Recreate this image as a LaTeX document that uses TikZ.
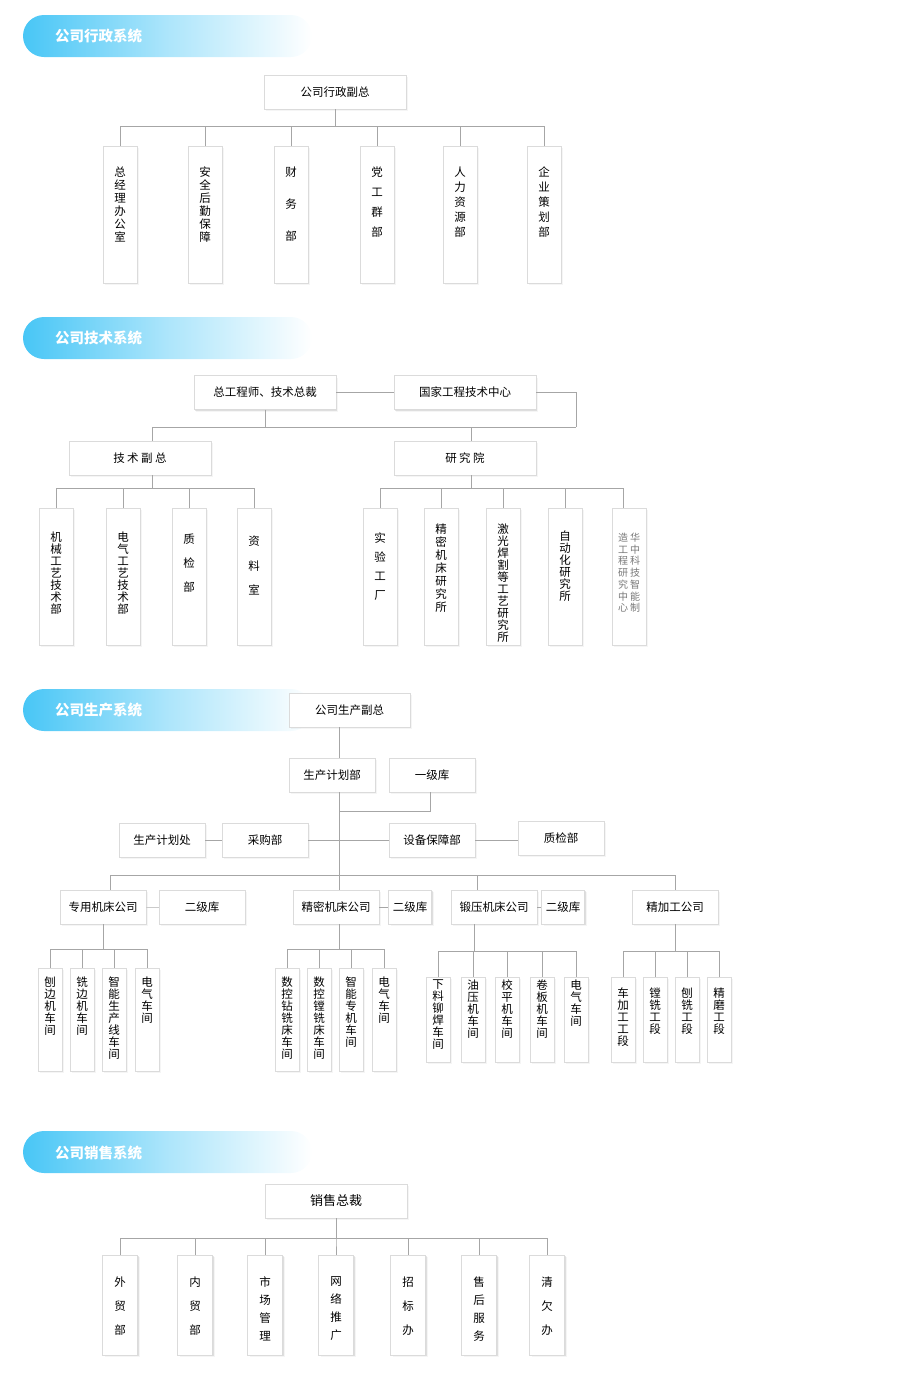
\documentclass[tikz,border=0pt]{standalone}
\usepackage{fontspec}
\newfontfamily\cjk{Noto Sans CJK SC}
\usetikzlibrary{shadows}
\definecolor{headblue}{RGB}{72,198,246}
\definecolor{linegray}{RGB}{166,166,166}
\definecolor{labgray}{RGB}{120,120,120}
\tikzset{
  box/.style={fill=white, draw=black!14, line width=0.4pt,
    drop shadow={shadow xshift=2.2pt, shadow yshift=-2.2pt, opacity=0.08},
    drop shadow={shadow xshift=1.2pt, shadow yshift=-1.2pt, opacity=0.2},
    font=\cjk\fontsize{11.5}{13}\selectfont, inner sep=0pt},
  hbox/.style={box, minimum width=142pt, minimum height=34pt},
  mbox/.style={box, minimum width=86pt, minimum height=34pt},
  sbox/.style={box, minimum width=43pt, minimum height=34pt},
  vbox/.style={box, minimum width=34pt, minimum height=137pt},
  tbox/.style={box, minimum width=24pt, minimum height=#1},
  vtxt/.style={font=\cjk\fontsize{11.5}{#1}\selectfont, align=center, inner sep=0pt, anchor=north},
  conn/.style={draw=linegray, line width=0.9pt},
  headbar/.style={rounded corners=21pt, left color=headblue, right color=white, middle color=headblue!45},
  headtxt/.style={font=\cjk\bfseries\fontsize{14.5}{16}\selectfont, text=white, anchor=west, inner sep=0pt}
}
\begin{document}
\begin{tikzpicture}[x=1pt,y=-1pt]
  \useasboundingbox (0,0) rectangle (900,1390);

  % administration
  \shade[headbar] (23,15) rectangle (312,57);
  \node[headtxt] (h1) at (55,36) {公司行政系统};
  \node[hbox] (xzfz) at (335,92) {公司行政副总};
  \foreach \n/\x/\s/\t in {zjb/120/13/{总\\经\\理\\办\\公\\室}, aqhq/205/13/{安\\全\\后\\勤\\保\\障},
      cwb/291/32/{财\\务\\部}, dgq/377/20/{党\\工\\群\\部}, rlzy/460/15/{人\\力\\资\\源\\部},
      qych/544/15/{企\\业\\策\\划\\部}}{
    \node[vbox] (\n) at (\x,214.5) {};
    \node[vtxt=\s] (\n-t) at ([yshift=-21pt]\n.north) {\t};
    \draw[conn] (xzfz.south) -- ++(0,17) -| (\n.north);
  }

  % technology
  \shade[headbar] (23,317) rectangle (312,359);
  \node[headtxt] (h2) at (55,338) {公司技术系统};
  \node[hbox] (zgs) at (265,392.5) {总工程师、技术总裁};
  \node[hbox] (gjzx) at (465,392.5) {国家工程技术中心};
  \node[hbox] (jsfz) at (140,458) {技\hspace{2.5pt}术\hspace{2.5pt}副\hspace{2.5pt}总};
  \node[hbox] (yjy) at (465,458) {研\hspace{2.5pt}究\hspace{2.5pt}院};
  \coordinate (k3) at (576,427);
  \draw[conn] (zgs.east) -- (gjzx.west);
  \draw[conn] (gjzx.east) -| (k3);
  \draw[conn] (zgs.south) |- (k3);
  \draw[conn] ([xshift=12pt]jsfz.north) |- (k3);
  \draw[conn] ([xshift=6pt]yjy.north) |- (k3);
  \foreach \n/\x/\s/\o/\t in {jxgy/56/12/24/{机\\械\\工\\艺\\技\\术\\部}, dqgy/123/12/24/{电\\气\\工\\艺\\技\\术\\部},
      zjs/189/24/26/{质\\检\\部}, zls/254/24.5/28/{资\\料\\室}}{
    \node[vbox] (\n) at (\x,576.5) {};
    \node[vtxt=\s] (\n-t) at ([yshift=-\o pt]\n.north) {\t};
    \draw[conn] ([xshift=12pt]jsfz.south) -- ++(0,13) -| (\n.north);
  }
  \foreach \n/\x/\s/\o/\t in {sygc/380/19/25/{实\\验\\工\\厂}, jmjc/441/13/16/{精\\密\\机\\床\\研\\究\\所},
      jghg/503/12/16/{激\\光\\焊\\割\\等\\工\\艺\\研\\究\\所}, zdh/565/12/23/{自\\动\\化\\研\\究\\所}}{
    \node[vbox] (\n) at (\x,576.5) {};
    \node[vtxt=\s] (\n-t) at ([yshift=-\o pt]\n.north) {\t};
    \draw[conn] ([xshift=6pt]yjy.south) -- ++(0,13) -| (\n.north);
  }
  \node[vbox] (hzkj) at (629,576.5) {};
  \node[font=\cjk\fontsize{10}{11}\selectfont, text=labgray, inner sep=0pt, anchor=north] (hzkj-t)
    at ([yshift=-25pt]hzkj.north)
    {\begin{tabular}{@{}c@{\hspace{2pt}}c@{}}造&华\\工&中\\程&科\\研&技\\究&智\\中&能\\心&制\end{tabular}};
  \draw[conn] ([xshift=6pt]yjy.south) -- ++(0,13) -| ([xshift=-6pt]hzkj.north);

  % production
  \shade[headbar] (23,689) rectangle (312,731);
  \node[headtxt] (h3) at (55,710) {公司生产系统};
  \node[mbox, minimum width=121pt] (scfz) at (349.5,710) {公司生产副总};
  \node[mbox] (scjh) at (332,775) {生产计划部};
  \node[mbox] (yjk) at (432,775) {一级库};
  \node[mbox] (jhc) at (162,840) {生产计划处};
  \node[mbox] (cgb) at (265,840) {采购部};
  \node[mbox] (sbb) at (432,840) {设备保障部};
  \node[mbox] (zjb3) at (561,838) {质检部};
  \node[mbox] (zygs) at (103,907) {专用机床公司};
  \node[mbox] (ejk1) at (202,907) {二级库};
  \node[mbox] (jmgs) at (336,907) {精密机床公司};
  \node[sbox] (ejk2) at (410,907) {二级库};
  \node[mbox] (dygs) at (494,907) {锻压机床公司};
  \node[sbox] (ejk3) at (563,907) {二级库};
  \node[mbox] (jjgs) at (675,907) {精加工公司};
  \coordinate (trk) at (339,811);
  \coordinate (bus3) at (339,875);
  \draw[conn] (scfz.south -| trk) -- (scjh.north -| trk);
  \draw[conn] (scjh.south -| trk) -- (jmgs.north -| trk);
  \draw[conn] ([xshift=-2pt]yjk.south) |- (trk);
  \draw[conn] (jhc.east) -- (cgb.west);
  \draw[conn] (cgb.east) -- (sbb.west);
  \draw[conn] (sbb.east) -- (zjb3.west |- sbb.east);
  \draw[conn] (bus3) -| ([xshift=7pt]zygs.north);
  \draw[conn] (bus3) -| ([xshift=-17pt]dygs.north);
  \draw[conn] (bus3) -| (jjgs.north);
  \draw[conn, draw=linegray!60] (zygs.east) -- (ejk1.west);
  \draw[conn] (jmgs.east) -- (ejk2.west);
  \draw[conn] (dygs.east) -- (ejk3.west);
  \foreach \n/\x/\t in {bbj/50/{刨\\边\\机\\车\\间}, xbj/82/{铣\\边\\机\\车\\间},
      znsc/114/{智\\能\\生\\产\\线\\车\\间}, dqcj1/147/{电\\气\\车\\间}}{
    \node[tbox=103pt] (\n) at (\x,1019.5) {};
    \node[vtxt=12] (\n-t) at ([yshift=-9pt]\n.north) {\t};
    \draw[conn] (zygs.south) -- ++(0,25) -| (\n.north);
  }
  \foreach \n/\x/\t in {sklx/287/{数\\控\\钻\\铣\\床\\车\\间}, sktx/319/{数\\控\\镗\\铣\\床\\车\\间},
      znzj/351/{智\\能\\专\\机\\车\\间}, dqcj2/384/{电\\气\\车\\间}}{
    \node[tbox=103pt] (\n) at (\x,1019.5) {};
    \node[vtxt=12] (\n-t) at ([yshift=-9pt]\n.north) {\t};
    \draw[conn] (jmgs.south -| trk) -- ++(0,25) -| (\n.north);
  }
  \foreach \n/\x/\t in {xlmh/438/{下\\料\\铆\\焊\\车\\间}, yyj/473/{油\\压\\机\\车\\间},
      jpj/507/{校\\平\\机\\车\\间}, jbj/542/{卷\\板\\机\\车\\间}, dqcj3/576/{电\\气\\车\\间}}{
    \node[tbox=85pt] (\n) at (\x,1019.5) {};
    \node[vtxt=12] (\n-t) at ([yshift=-3pt]\n.north) {\t};
    \draw[conn] ([xshift=-20pt]dygs.south) -- ++(0,27) -| (\n.north);
  }
  \foreach \n/\x/\t in {cjg/623/{车\\加\\工\\工\\段}, tx/655/{镗\\铣\\工\\段},
      bx/687/{刨\\铣\\工\\段}, jm/719/{精\\磨\\工\\段}}{
    \node[tbox=85pt] (\n) at (\x,1019.5) {};
    \node[vtxt=12] (\n-t) at ([yshift=-11pt]\n.north) {\t};
    \draw[conn] (jjgs.south) -- ++(0,27) -| (\n.north);
  }

  % sales
  \shade[headbar] (23,1131) rectangle (312,1173);
  \node[headtxt] (h4) at (55,1153) {公司销售系统};
  \node[hbox, font=\cjk\fontsize{13}{14}\selectfont] (xszc) at (336,1201) {销售总裁};
  \foreach \n/\x/\s/\t in {wmb/120/24/{外\\贸\\部}, nmb/195/24/{内\\贸\\部}, scgl/265/18/{市\\场\\管\\理},
      wltg/336/18/{网\\络\\推\\广}, zbb/408/24/{招\\标\\办}, shfw/479/18/{售\\后\\服\\务},
      qqb/547/24/{清\\欠\\办}}{
    \node[box, minimum width=35pt, minimum height=100pt] (\n) at (\x,1305) {};
    \node[vtxt=\s] (\n-t) at ([yshift=-22pt]\n.north) {\t};
    \draw[conn] (xszc.south) -- ++(0,20) -| (\n.north);
  }
\end{tikzpicture}
\end{document}
